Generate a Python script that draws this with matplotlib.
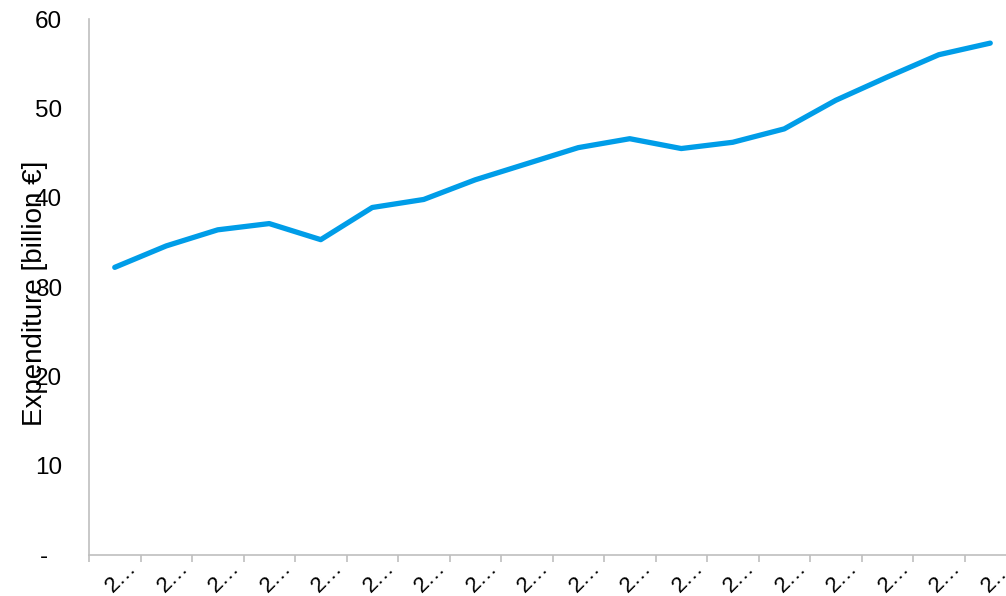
import matplotlib
matplotlib.use("Agg")
import matplotlib.pyplot as plt
import matplotlib.transforms as mtransforms

plt.rcParams['font.family'] = ['Liberation Sans', 'DejaVu Sans']

# Data (categories are shown truncated as in the reference)
categories = ['2…', '2…', '2…', '2…', '2…', '2…', '2…', '2…', '2…',
              '2…', '2…', '2…', '2…', '2…', '2…', '2…', '2…', '2…']
expenditure = [32.2, 34.6, 36.4, 37.1, 35.3, 38.9, 39.8, 42.0, 43.8,
               45.6, 46.6, 45.5, 46.2, 47.7, 50.9, 53.5, 56.0, 57.3]
y_ticks = [0, 10, 20, 30, 40, 50, 60]
y_tick_labels = ['-', '10', '20', '30', '40', '50', '60']
y_label = 'Expenditure [billion €]'

W, H = 1006, 596
fig = plt.figure(figsize=(W / 100, H / 100), dpi=100)
ax = fig.add_axes([89 / W, 41 / H, 927 / W, 536 / H])

x = list(range(len(categories)))
ax.plot(x, expenditure, color='#009DE8', linewidth=3.8, solid_capstyle='round',
        solid_joinstyle='round', clip_on=False)

ax.set_xlim(-0.5, len(categories) - 0.5)
ax.set_ylim(0, 60)

spine_color = '#BFBFBF'
for s in ['top', 'right']:
    ax.spines[s].set_visible(False)
for s in ['left', 'bottom']:
    ax.spines[s].set_color(spine_color)
    ax.spines[s].set_linewidth(1.2)

# y axis
ax.set_yticks(y_ticks)
ax.set_yticklabels(y_tick_labels)
ax.tick_params(axis='y', length=0, pad=19.5, labelsize=17.5, labelcolor='#000000')
zero_lbl = ax.get_yticklabels()[0]
zero_lbl.set_transform(zero_lbl.get_transform() +
                       mtransforms.ScaledTranslation(-14 / 100, 0, fig.dpi_scale_trans))

# x axis: labels at category centers, tick marks at boundaries
ax.set_xticks(x)
ax.set_xticklabels(categories, rotation=45, ha='right', va='baseline',
                   rotation_mode='anchor')
ax.tick_params(axis='x', which='major', length=0, pad=10, labelsize=16)
ax.set_xticks([i - 0.5 for i in range(len(categories) + 1)], minor=True)
ax.tick_params(axis='x', which='minor', length=5, width=1.2, color=spine_color)
for lbl in ax.get_xticklabels():
    lbl.set_transform(lbl.get_transform() +
                      mtransforms.ScaledTranslation(23 / 100, 0, fig.dpi_scale_trans))

ax.set_ylabel(y_label, fontsize=20)
ax.yaxis.set_label_coords(-41 / 927, 262 / 536)

fig.savefig('out.png', dpi=100)
